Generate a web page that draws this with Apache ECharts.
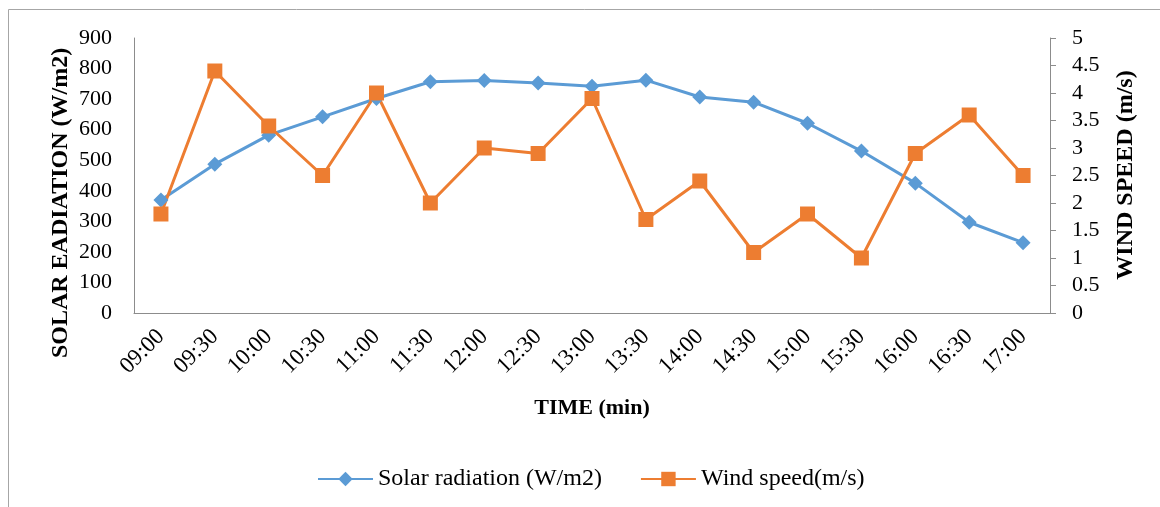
<!DOCTYPE html>
<html>
<head>
<meta charset="utf-8">
<style>
  html, body { margin: 0; padding: 0; background: #ffffff; }
  #chart { width: 1160px; height: 507px; }
</style>
<script src="https://cdn.jsdelivr.net/npm/echarts@6/dist/echarts.min.js"></script>
</head>
<body>
<div id="chart"></div>
<script>
// Half-hourly readings, 09:00 – 17:00
const times = ['09:00', '09:30', '10:00', '10:30', '11:00', '11:30', '12:00', '12:30', '13:00',
               '13:30', '14:00', '14:30', '15:00', '15:30', '16:00', '16:30', '17:00'];
const solarRadiation = [370, 487, 582, 642, 702, 757, 761, 753, 742, 762, 707, 690, 621, 530, 425, 297, 230];
const windSpeed = [1.8, 4.4, 3.4, 2.5, 4.0, 2.0, 3.0, 2.9, 3.9, 1.7, 2.4, 1.1, 1.8, 1.0, 2.9, 3.6, 2.5];

const solarTicks = { min: 0, max: 900, interval: 100 };
const windTicks = { min: 0, max: 5, interval: 0.5 };

const solarTitle = 'SOLAR EADIATION (W/m2)';
const windTitle = 'WIND SPEED (m/s)';
const timeTitle = 'TIME (min)';

const FONT = '"Liberation Serif", "Times New Roman", serif';
const AXIS_GREY = '#8c8c8c';
const BLUE = '#5b9bd5';
const ORANGE = '#ed7d31';

const chart = echarts.init(document.getElementById('chart'), null, { renderer: 'canvas' });

// vertical axis titles, read bottom-to-top
function sideTitle(text, x, y) {
  return {
    type: 'text',
    silent: true,
    x: x, y: y,
    rotation: Math.PI / 2,
    style: {
      text: text,
      fontFamily: FONT, fontSize: 24, fontWeight: 'bold',
      fill: '#000',
      align: 'center', verticalAlign: 'middle'
    }
  };
}

chart.setOption({
  backgroundColor: '#ffffff',
  animation: false,
  textStyle: { fontFamily: FONT, color: '#000' },
  graphic: [{
    type: 'rect',
    silent: true,
    shape: { x: 8.5, y: 9.5, width: 1300, height: 700 },
    style: { fill: 'none', stroke: '#a6a6a6', lineWidth: 1 }
  },
  sideTitle(solarTitle, 61, 203),
  sideTitle(windTitle, 1126, 175)
  ],
  grid: {
    left: 134, right: 110, top: 38, bottom: 194,
    outerBoundsMode: 'none'
  },
  legend: {
    bottom: 11,
    left: 312,
    itemWidth: 55,
    itemHeight: 18,
    itemGap: 38,
    textStyle: { fontFamily: FONT, fontSize: 24, color: '#000' },
    data: ['Solar radiation (W/m2)', 'Wind speed(m/s)']
  },
  xAxis: {
    type: 'category',
    data: times,
    boundaryGap: true,
    name: timeTitle,
    nameLocation: 'middle',
    nameGap: 84,
    nameTextStyle: { fontFamily: FONT, fontSize: 22, fontWeight: 'bold', color: '#000' },
    axisLine: { lineStyle: { color: AXIS_GREY, width: 1 } },
    axisTick: { show: false },
    axisLabel: { rotate: 45, margin: 20, fontFamily: FONT, fontSize: 23, color: '#000' },
    splitLine: { show: false }
  },
  yAxis: [{
    type: 'value',
    position: 'left',
    min: solarTicks.min, max: solarTicks.max, interval: solarTicks.interval,
    axisLine: { show: true, lineStyle: { color: AXIS_GREY, width: 1 } },
    axisTick: { show: false },
    axisLabel: { margin: 22, fontFamily: FONT, fontSize: 22, color: '#000' },
    splitLine: { show: false }
  }, {
    type: 'value',
    position: 'right',
    min: windTicks.min, max: windTicks.max, interval: windTicks.interval,
    axisLine: { show: true, lineStyle: { color: AXIS_GREY, width: 1 } },
    axisTick: { show: true, length: 6, lineStyle: { color: AXIS_GREY } },
    axisLabel: { margin: 22, fontFamily: FONT, fontSize: 22, color: '#000' },
    splitLine: { show: false }
  }],
  series: [{
    name: 'Solar radiation (W/m2)',
    type: 'line',
    yAxisIndex: 0,
    data: solarRadiation,
    symbol: 'diamond',
    symbolSize: 15,
    showAllSymbol: true,
    itemStyle: { color: BLUE },
    lineStyle: { color: BLUE, width: 3 }
  }, {
    name: 'Wind speed(m/s)',
    type: 'line',
    yAxisIndex: 1,
    data: windSpeed,
    symbol: 'rect',
    symbolSize: 15,
    showAllSymbol: true,
    itemStyle: { color: ORANGE },
    lineStyle: { color: ORANGE, width: 3 }
  }]
});
</script>
</body>
</html>
